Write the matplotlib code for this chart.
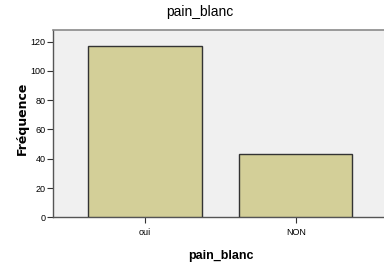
import matplotlib
matplotlib.use("Agg")
import matplotlib.pyplot as plt
from matplotlib import font_manager

names = {f.name for f in font_manager.fontManager.ttflist}
fam = ['Liberation Sans Narrow'] if 'Liberation Sans Narrow' in names else ['Liberation Sans']
plt.rcParams['font.family'] = fam + ['DejaVu Sans']

categories = ['oui', 'NON']
values = [117, 43]
yticks = [0, 20, 40, 60, 80, 100, 120]

fig = plt.figure(figsize=(3.84, 2.66), dpi=100)
fig.patch.set_facecolor('white')
ax = fig.add_axes([53/384, 1-217.3/266, (145.3 + 150.7*1.61 - 53)/384, (217.3-30.3)/266])
ax.set_facecolor('#F0F0F0')
x = list(range(len(categories)))
ax.bar(x, values, width=0.75, color='#D3CF98', edgecolor='#333333', linewidth=1.0, zorder=3)
ax.set_xlim(-0.61, 1.61)
ax.set_ylim(0, (217.3-30.3)/1.465)
ax.set_yticks(yticks)
ax.set_xticks(x)
ax.set_xticklabels(categories)
ax.tick_params(axis='y', labelsize=6.5, length=4, width=0.8, color='#333333', pad=1.5)
ax.tick_params(axis='x', labelsize=6.5, length=4, width=0.8, color='#333333', pad=4)
for s in ['top', 'right']:
    ax.spines[s].set_color('#8A8A8A')
    ax.spines[s].set_linewidth(1.2)
for s in ['left', 'bottom']:
    ax.spines[s].set_color('#555555')
    ax.spines[s].set_linewidth(1.0)
fig.text(200/384, 1-12/266, 'pain_blanc', fontsize=10, ha='center', va='center')
ax.set_xlabel('pain_blanc', fontsize=9, fontweight='bold', labelpad=9)
fig.text(22/384, 1-118/266, 'Fréquence', fontsize=9, fontweight='bold', rotation=90,
         ha='center', va='center', family=['DejaVu Sans'])
fig.savefig('out.png', dpi=100)
